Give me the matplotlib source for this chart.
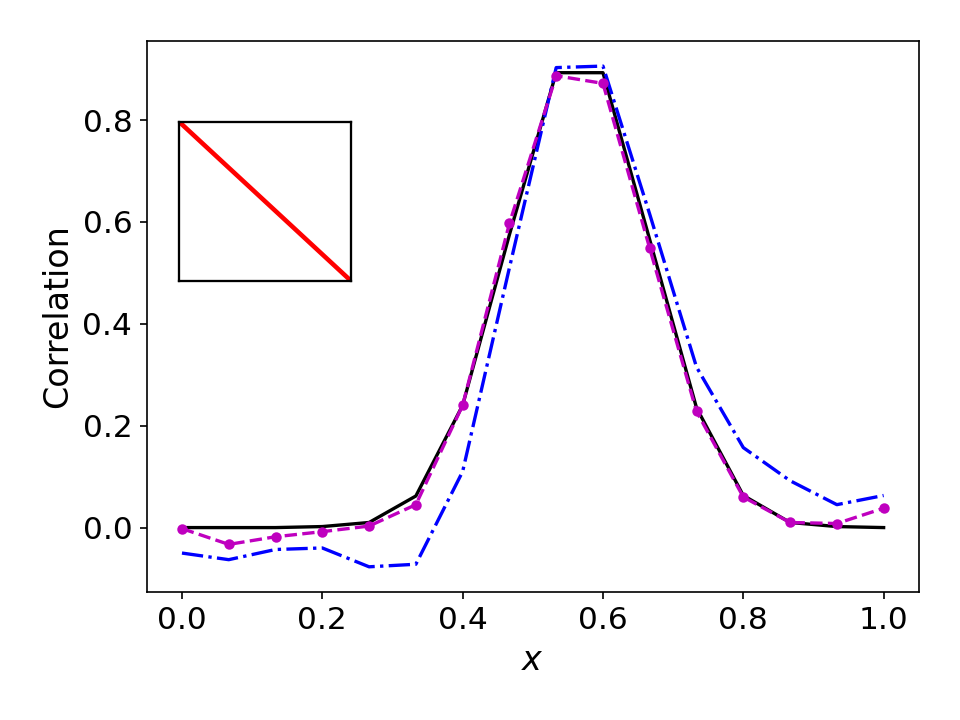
import numpy as np
import matplotlib
matplotlib.use('Agg')
from matplotlib import pyplot as plt

# sample positions
x = np.linspace(0, 1, 16)

exact = [0.0, 0.0, 0.0, 0.002, 0.01, 0.062, 0.24, 0.575,
         0.893, 0.893, 0.565, 0.235, 0.063, 0.01, 0.002, 0.0]
approx_a = [-0.05, -0.063, -0.043, -0.04, -0.077, -0.072, 0.11, 0.51,
            0.903, 0.906, 0.615, 0.315, 0.157, 0.092, 0.045, 0.063]
approx_b = [-0.002, -0.033, -0.018, -0.008, 0.003, 0.045, 0.24, 0.597,
            0.887, 0.872, 0.548, 0.228, 0.06, 0.01, 0.008, 0.038]

fig = plt.figure(figsize=(6.4, 4.8), dpi=150)
ax = fig.add_axes([0.153, 0.178, 0.804, 0.765])
ax.plot(x, exact, 'k-', lw=1.6)
ax.plot(x, approx_a, 'b-.', lw=1.6)
ax.plot(x, approx_b, 'm--', lw=1.6, marker='o', ms=4)
ax.set_xlabel('$x$', fontsize=16)
ax.set_ylabel('Correlation', fontsize=16)
ax.tick_params(labelsize=15)

# inset showing the map
ins = fig.add_axes([0.1865, 0.61, 0.179, 0.221])
ins.plot([0, 1], [1, 0], 'r-', lw=2.2)
ins.set_xlim(0, 1)
ins.set_ylim(0, 1)
ins.set_xticks([])
ins.set_yticks([])
for s in ins.spines.values():
    s.set_linewidth(1.1)

fig.savefig('out.png', dpi=150)
